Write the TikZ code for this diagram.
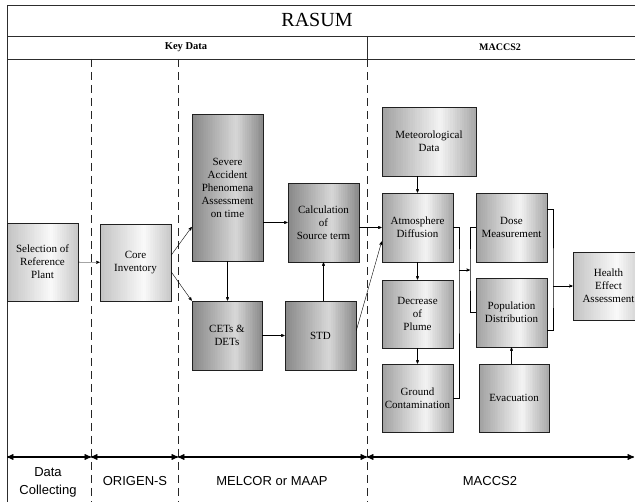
\documentclass[tikz,border=0pt]{standalone}
\usepackage{fontspec}
\setmainfont{Liberation Serif}
\newfontfamily\barfont{Liberation Sans}
\usetikzlibrary{arrows, calc}
\definecolor{paleL}{HTML}{C2C2C2}
\definecolor{paleM}{HTML}{FAFAFA}
\definecolor{paleR}{HTML}{C8C8C8}
\definecolor{midL}{HTML}{A0A0A0}
\definecolor{midM}{HTML}{F4F4F4}
\definecolor{midR}{HTML}{A8A8A8}
\definecolor{darkL}{HTML}{878787}
\definecolor{darkM}{HTML}{D8D8D8}
\definecolor{darkR}{HTML}{8A8A8A}
\tikzset{
  >=stealth', % small filled arrow heads
  block/.style={draw=gray!25!black, semithick, align=center, inner sep=1pt, minimum width=71pt, font=\fontsize{11}{13}\selectfont}, % every box of the chart
  shadebox/.style n args={3}{block, path picture={
      \foreach \k in {0,...,39}{
        \pgfmathsetmacro{\tpos}{(\k+0.5)/40}
        \pgfmathsetmacro{\ta}{\k/40}
        \pgfmathsetmacro{\tb}{(\k+1.3)/40}
        \ifdim\tpos pt<0.62pt
          \pgfmathtruncatemacro{\pct}{100*\tpos/0.62}
          \colorlet{stripcol}{#2!\pct!#1}
        \else
          \pgfmathtruncatemacro{\pct}{100*(1-\tpos)/0.38}
          \colorlet{stripcol}{#2!\pct!#3}
        \fi
        \fill[stripcol] ($(path picture bounding box.south west)!\ta!(path picture bounding box.south east)$)
          rectangle ($(path picture bounding box.north west)!\tb!(path picture bounding box.north east)$);
      }}}, % horizontal gradient, light band right of centre
  pale/.style={shadebox={paleL}{paleM}{paleR}}, % light boxes
  midgray/.style={shadebox={midL}{midM}{midR}}, % MACCS2 boxes
  dark/.style={shadebox={darkL}{darkM}{darkR}}, % MELCOR boxes
  phase/.style={dash pattern=on 8pt off 5pt, thick, gray!30!black}, % dashed dividers
  span/.style={<->, line width=1.3pt, black}, % arrows along the bottom
  frame/.style={gray!35!black, semithick}, % title table
  barlabel/.style={font=\barfont\fontsize{13}{18}\selectfont, align=center}, % tool names
}

\begin{document}
\begin{tikzpicture}[x=1pt, y=-1pt]
    \useasboundingbox (0,0) rectangle (635,502);
    % title table
    \draw[frame] (7,5) -- (635,5) (7,36) -- (635,36) (7,59) -- (635,59);
    \draw[frame] (7,5) -- (7,502) (367,36) -- (367,59);
    \node (title) at (317,20) {\fontsize{20}{22}\selectfont RASUM};
    \node (keydata) at (186,47.5) {\fontsize{10.5}{11}\selectfont\bfseries Key Data};
    \node (maccs) at (500,47.5) {\fontsize{10}{11}\selectfont\bfseries MACCS2};
    % phases
    \draw[phase] (91,59) -- (91,502);
    \draw[phase] (178,59) -- (178,502);
    \draw[phase] (367,59) -- (367,502);

    \node[pale, minimum height=78pt] (sel) at (42.5,262) {Selection of\\Reference\\Plant};
    \node[pale, minimum height=77pt] (core) at (135.5,262.5) {Core\\Inventory};
    \node[dark, minimum height=147pt] (severe) at (227.5,187.5) {Severe\\Accident\\Phenomena\\Assessment\\on time};
    \node[dark, minimum height=69pt, minimum width=70pt] (cets) at (227,335.5) {CETs \&\\DETs};
    \node[dark, minimum height=79pt] (calc) at (323.5,222.5) {Calculation\\of\\Source term};
    \node[dark, minimum height=69pt] (std) at (320.5,335.5) {STD};
    \node[midgray, minimum height=69pt, minimum width=94pt] (met) at (429,141.5) {Meteorological\\Data};
    \node[midgray, minimum height=69pt] (atm) at (417.5,227.5) {Atmosphere\\Diffusion};
    \node[midgray, minimum height=68pt] (plume) at (417.5,314) {Decrease\\of\\Plume};
    \node[midgray, minimum height=68pt] (ground) at (417.5,398) {Ground\\Contamination};
    \node[midgray, minimum height=69pt] (dose) at (511.5,227.5) {Dose\\Measurement};
    \node[midgray, minimum height=69pt] (pop) at (511.5,312.5) {Population\\Distribution};
    \node[midgray, minimum height=68pt, minimum width=70pt] (evac) at (514,398) {Evacuation};
    \node[pale, minimum height=68pt] (health) at (608.5,286) {Health\\Effect\\Assessment};

    \draw[->] (sel) -- (core);
    \draw[->] ([yshift=7.5pt]core.east) -- ([yshift=-39.5pt]severe.west);
    \draw[->] ([yshift=-9.5pt]core.east) -- (cets.north west);
    \draw[->] (severe.south) -- (severe.south |- cets.north);
    \draw[->] (severe.east |- calc) -- (calc.west);
    \draw[->] (cets) -- (std);
    \draw[->] (calc.south |- std.north) -- (calc.south);
    \draw[->] (calc.east |- atm) -- (atm.west);
    \draw[->] ([yshift=5pt]std.east) -- ([yshift=-14pt]atm.west);
    \draw[->] (atm.north |- met.south) -- (atm.north);
    \draw[->] (atm.south) -- (atm.south |- plume.north);
    \draw[->] (plume.south) -- (plume.south |- ground.north);
    \draw[->] (pop.south |- evac.north) -- (pop.south);
    % joining brackets
    \coordinate (mixL) at (459,270);
    \coordinate (mixR) at (470,270);
    \draw (atm.east) -| (mixL) |- (ground.east);
    \draw (dose.west) -| (mixR) |- (pop.west);
    \draw[->] (mixL) -- (mixR);
    \coordinate (sumR) at (553,286);
    \draw ([yshift=18.5pt]dose.east) -| (sumR) |- ([yshift=-17.5pt]pop.east);
    \draw[->] (sumR) -- (health.west);

    % tools along the bottom
    \coordinate (b0) at (7,457);
    \coordinate (b1) at (91,457);
    \coordinate (b2) at (178,457);
    \coordinate (b3) at (367,457);
    \coordinate (b4) at (634,457);
    \draw[span] (b0) -- (b1);
    \draw[span] (b1) -- (b2);
    \draw[span] (b2) -- (b3);
    \draw[span] (b3) -- (b4);
    \node[barlabel] (collect) at (48,482) {Data\\Collecting};
    \node[barlabel] (origen) at (135,481) {ORIGEN-S};
    \node[barlabel] (melcor) at (272,481) {MELCOR or MAAP};
    \node[barlabel] (maccsbar) at (490,481) {MACCS2};
\end{tikzpicture}
\end{document}
